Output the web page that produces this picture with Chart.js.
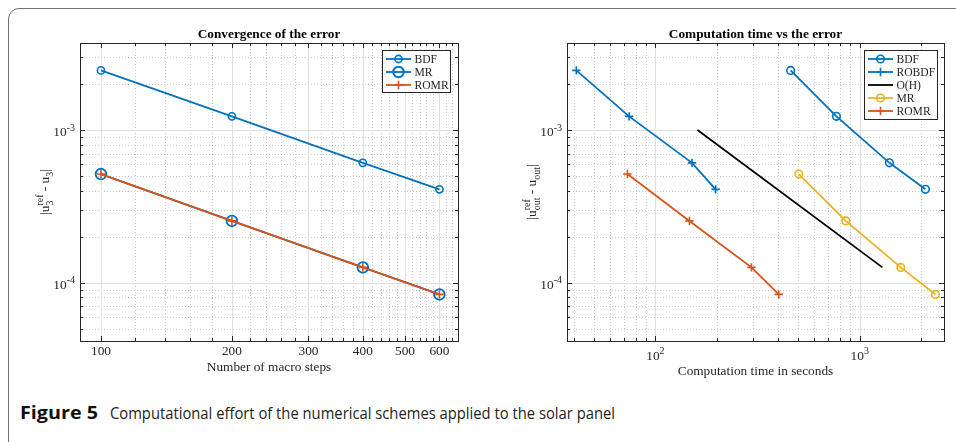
<!DOCTYPE html>
<html lang="en">
<head>
<meta charset="UTF-8">
<title>Figure 5</title>
<script src="https://cdn.jsdelivr.net/npm/chart.js@4"></script>
<style>
  body { margin: 0; background: #fff; }
  .figura { position: relative; width: 956px; height: 442px; overflow: hidden; }
  .moldura { position: absolute; left: 8px; top: 8px; width: 1000px; height: 500px;
             border: 1.4px solid #737373; border-radius: 11px; }
  canvas { position: absolute; top: 0; }
  #graficoEsq { left: 0; }
  #graficoDir { left: 478px; }
  .cap { position: absolute; top: 401px; font-family: "Open Sans", sans-serif; font-size: 17px;
         color: #231f20; white-space: nowrap; transform-origin: left top; }
  #capNum { left: 20px; font-weight: bold; color: #111; }
  #capTxt { left: 110px; }
</style>
</head>
<body>
<div class="figura">
  <div class="moldura"></div>
  <canvas id="graficoEsq" width="478" height="385"></canvas>
  <canvas id="graficoDir" width="478" height="385"></canvas>
  <span class="cap" id="capNum">Figure 5</span>
  <span class="cap" id="capTxt">Computational effort of the numerical schemes applied to the solar panel</span>
</div>

<script>
// valores
const passosMacro = [100, 200, 400, 600];
const erroBDF = [2.46e-3, 1.23e-3, 6.1e-4, 4.09e-4];
const erroMR = [5.15e-4, 2.54e-4, 1.26e-4, 8.38e-5];
const erroROMR = [5.15e-4, 2.54e-4, 1.26e-4, 8.38e-5];

const tempoBDF = [459, 769, 1397, 2097];
const tempoROBDF = [41.0, 74.3, 151, 197];
const tempoMR = [503, 854, 1588, 2347];
const tempoROMR = [72.9, 146.7, 295, 401.5];
const tempoOH = [160.6, 1291];
const erroOH = [1.0e-3, 1.26e-4];

// ticks
const ticksPassos = [100, 200, 300, 400, 500, 600];
const ticksPassosMenor = [120, 140, 160, 180, 220, 240, 260, 280, 320, 340, 360, 380,
                          420, 440, 460, 480, 520, 540, 560, 580, 620, 640];
const ticksTempo = [100, 1000];
const expTempo = ['2', '3'];
const ticksTempoMenor = [40, 50, 60, 70, 80, 90, 200, 300, 400, 500, 600, 700, 800, 900, 2000];
const ticksErro = [1e-4, 1e-3];
const expErro = ['-4', '-3'];
const ticksErroMenor = [5e-5, 6e-5, 7e-5, 8e-5, 9e-5, 2e-4, 3e-4, 4e-4, 5e-4, 6e-4, 7e-4,
                        8e-4, 9e-4, 2e-3, 3e-3];

const AZUL = '#0072BD';
const LARANJA = '#D95319';
const AMARELO = '#EDB120';
const PRETO = '#000000';
const SERIF = '"Liberation Serif", "Times New Roman", serif';
const FT = 13.3;   // fonte dos eixos
const FS = 10;     // sobrescritos
const FL = 11.6;   // legenda

function pontos(xs, ys) {
    return xs.map((x, i) => ({ x: x, y: ys[i] }));
}

function linha(ctx, x1, y1, x2, y2) {
    ctx.beginPath();
    ctx.moveTo(x1, y1);
    ctx.lineTo(x2, y2);
    ctx.stroke();
}

// texto com sobrescrito / subscrito
function textoRico(ctx, partes, x, y, soMedir) {
    let cx = x;
    for (const p of partes) {
        if (p.t !== undefined) {
            ctx.font = FT + 'px ' + SERIF;
            if (!soMedir) ctx.fillText(p.t, cx, y);
            cx += ctx.measureText(p.t).width;
        } else {
            ctx.font = FS + 'px ' + SERIF;
            const w1 = p.sup ? ctx.measureText(p.sup).width : 0;
            const w2 = p.sub ? ctx.measureText(p.sub).width : 0;
            if (!soMedir) {
                if (p.sup) ctx.fillText(p.sup, cx, y - 6.5);
                if (p.sub) ctx.fillText(p.sub, cx, y + 3.5);
            }
            cx += Math.max(w1, w2);
        }
    }
    return cx - x;
}

function marcador(ctx, estilo, r, x, y) {
    ctx.beginPath();
    if (estilo === 'circle') {
        ctx.arc(x, y, r, 0, Math.PI * 2);
    } else if (estilo === 'cross') {
        ctx.moveTo(x - r, y); ctx.lineTo(x + r, y);
        ctx.moveTo(x, y - r); ctx.lineTo(x, y + r);
    }
    ctx.stroke();
}

// eixos no estilo do matlab: grade, caixa, ticks para dentro, rótulos e legenda
const eixoMatlab = {
    id: 'eixoMatlab',
    beforeDatasetsDraw(chart, args, o) {
        const { ctx, chartArea: a, scales: { x, y } } = chart;
        ctx.save();
        ctx.lineWidth = 1;
        ctx.strokeStyle = 'rgba(0,0,0,0.2)';
        ctx.setLineDash([1, 2]);
        o.xMenor.forEach(v => { const p = Math.round(x.getPixelForValue(v)) + 0.5; linha(ctx, p, a.top, p, a.bottom); });
        o.yMenor.forEach(v => { const p = Math.round(y.getPixelForValue(v)) + 0.5; linha(ctx, a.left, p, a.right, p); });
        ctx.setLineDash([]);
        ctx.strokeStyle = '#dfdfdf';
        o.xMaior.forEach(v => { const p = Math.round(x.getPixelForValue(v)) + 0.5; linha(ctx, p, a.top, p, a.bottom); });
        o.yMaior.forEach(v => { const p = Math.round(y.getPixelForValue(v)) + 0.5; linha(ctx, a.left, p, a.right, p); });
        ctx.restore();
    },
    afterDatasetsDraw(chart, args, o) {
        const { ctx, chartArea: a, scales: { x, y } } = chart;
        ctx.save();
        ctx.strokeStyle = '#262626';
        ctx.fillStyle = '#262626';
        ctx.lineWidth = 1;
        // ticks
        const tx = (v, t) => { const p = Math.round(x.getPixelForValue(v)) + 0.5;
            linha(ctx, p, a.bottom, p, a.bottom - t); linha(ctx, p, a.top, p, a.top + t); };
        const ty = (v, t) => { const p = Math.round(y.getPixelForValue(v)) + 0.5;
            linha(ctx, a.left, p, a.left + t, p); linha(ctx, a.right, p, a.right - t, p); };
        o.xMenor.forEach(v => tx(v, 3));
        o.xMaior.forEach(v => tx(v, 5));
        o.yMenor.forEach(v => ty(v, 3));
        o.yMaior.forEach(v => ty(v, 5));
        ctx.strokeRect(Math.round(a.left) + 0.5, Math.round(a.top) + 0.5,
                       Math.round(a.right - a.left), Math.round(a.bottom - a.top));

        ctx.textAlign = 'left';
        ctx.textBaseline = 'alphabetic';
        // rótulos do eixo y: 10^n
        o.yMaior.forEach((v, i) => {
            const p = y.getPixelForValue(v);
            ctx.font = FS + 'px ' + SERIF;
            const we = ctx.measureText(o.yExp[i]).width;
            ctx.font = FT + 'px ' + SERIF;
            const wb = ctx.measureText('10').width;
            const xd = a.left - 5;
            ctx.fillText('10', xd - we - wb, p + 6);
            ctx.font = FS + 'px ' + SERIF;
            ctx.fillText(o.yExp[i], xd - we, p + 0.5);
        });
        // rótulos do eixo x em potência de 10
        if (o.xExp) {
            o.xMaior.forEach((v, i) => {
                const p = x.getPixelForValue(v);
                ctx.font = FS + 'px ' + SERIF;
                const we = ctx.measureText(o.xExp[i]).width;
                ctx.font = FT + 'px ' + SERIF;
                const wb = ctx.measureText('10').width;
                const x0 = p - (wb + we) / 2;
                ctx.fillText('10', x0, a.bottom + 18.5);
                ctx.font = FS + 'px ' + SERIF;
                ctx.fillText(o.xExp[i], x0 + wb, a.bottom + 13);
            });
        }
        // títulos
        const cx = (a.left + a.right) / 2;
        ctx.textAlign = 'center';
        ctx.font = 'bold ' + FT + 'px ' + SERIF;
        ctx.fillStyle = '#000';
        ctx.fillText(o.titulo, cx, 37.5);
        ctx.fillStyle = '#262626';
        ctx.font = FT + 'px ' + SERIF;
        ctx.fillText(o.tituloX, cx, a.bottom + o.tituloXdy);
        ctx.textAlign = 'left';
        ctx.save();
        ctx.translate(a.left - 31, (a.top + a.bottom) / 2);
        ctx.rotate(-Math.PI / 2);
        const w = textoRico(ctx, o.tituloY, 0, 0, true);
        textoRico(ctx, o.tituloY, -w / 2, 0, false);
        ctx.restore();

        // legenda
        const L = o.legenda;
        ctx.fillStyle = '#fff';
        ctx.fillRect(L.x, L.y, L.w, L.h);
        ctx.strokeStyle = '#262626';
        ctx.lineWidth = 1;
        ctx.strokeRect(L.x + 0.5, L.y + 0.5, L.w, L.h);
        ctx.font = FL + 'px ' + SERIF;
        ctx.textBaseline = 'middle';
        L.ordem.forEach((idx, k) => {
            const ds = chart.data.datasets[idx];
            const yy = L.y + 9 + k * 13;
            ctx.strokeStyle = ds.borderColor;
            ctx.lineWidth = ds.borderWidth;
            linha(ctx, L.x + 4, yy, L.x + 29, yy);
            if (ds.pointRadius > 0) {
                ctx.lineWidth = ds.pointBorderWidth;
                marcador(ctx, ds.pointStyle, ds.pointRadius, L.x + 16.5, yy);
            }
            ctx.fillStyle = '#262626';
            ctx.fillText(ds.label, L.x + 32.5, yy + 0.5);
        });
        ctx.restore();
    }
};

function serie(label, xs, ys, cor, estilo, raio, ordem) {
    return {
        label: label,
        data: pontos(xs, ys),
        showLine: true,
        borderColor: cor,
        borderWidth: 1.8,
        pointStyle: estilo,
        pointRadius: raio,
        pointBorderColor: cor,
        pointBackgroundColor: 'rgba(0,0,0,0)',
        pointBorderWidth: 1.6,
        order: ordem
    };
}

function opcoes(xMin, xMax, larguraY, direita, xTicks, mostrarX, plug) {
    return {
        responsive: false,
        animation: false,
        events: [],
        layout: { padding: { left: 0, top: 43, right: direita, bottom: 0 } },
        scales: {
            x: {
                type: 'logarithmic', min: xMin, max: xMax,
                grid: { display: false, drawTicks: false },
                border: { display: false },
                afterBuildTicks: s => { s.ticks = xTicks.map(v => ({ value: v })); },
                afterFit: s => { s.height = 44; },
                ticks: {
                    display: mostrarX, autoSkip: false, maxRotation: 0, padding: 3,
                    color: '#262626', font: { family: SERIF, size: FT },
                    callback: v => String(v)
                }
            },
            y: {
                type: 'logarithmic', min: 4.15e-5, max: 3.72e-3,
                grid: { display: false, drawTicks: false },
                border: { display: false },
                afterFit: s => { s.width = larguraY; },
                ticks: { display: false }
            }
        },
        plugins: {
            legend: { display: false },
            tooltip: { enabled: false },
            eixoMatlab: plug
        }
    };
}

// gráfico da esquerda
const dsEsq = [
    serie('BDF', passosMacro, erroBDF, AZUL, 'circle', 3.6, 2),
    serie('MR', passosMacro, erroMR, AZUL, 'circle', 5.3, 1),
    serie('ROMR', passosMacro, erroROMR, LARANJA, 'cross', 4.2, 0)
];
dsEsq[1].pointBorderWidth = 1.9;

new Chart(document.getElementById('graficoEsq'), {
    type: 'scatter',
    data: { datasets: dsEsq },
    options: opcoes(89.5, 662, 80, 20, ticksPassos, true, {
        xMaior: ticksPassos, xMenor: ticksPassosMenor,
        yMaior: ticksErro, yMenor: ticksErroMenor, yExp: expErro, xExp: null,
        titulo: 'Convergence of the error',
        tituloX: 'Number of macro steps', tituloXdy: 30,
        tituloY: [{ t: '|u' }, { sup: 'ref', sub: '3' }, { t: ' - u' }, { sub: '3' }, { t: '|' }],
        legenda: { x: 382, y: 50, w: 68, h: 42, ordem: [0, 1, 2] }
    }),
    plugins: [eixoMatlab]
});

// gráfico da direita
const dsDir = [
    serie('BDF', tempoBDF, erroBDF, AZUL, 'circle', 3.8, 4),
    serie('ROBDF', tempoROBDF, erroBDF, AZUL, 'cross', 4.2, 3),
    serie('O(H)', tempoOH, erroOH, PRETO, 'circle', 0, 2),
    serie('MR', tempoMR, erroMR, AMARELO, 'circle', 3.8, 1),
    serie('ROMR', tempoROMR, erroROMR, LARANJA, 'cross', 4.2, 0)
];

new Chart(document.getElementById('graficoDir'), {
    type: 'scatter',
    data: { datasets: dsDir },
    options: opcoes(36.9, 2585, 89, 12, ticksTempo, false, {
        xMaior: ticksTempo, xMenor: ticksTempoMenor,
        yMaior: ticksErro, yMenor: ticksErroMenor, yExp: expErro, xExp: expTempo,
        titulo: 'Computation time vs the error',
        tituloX: 'Computation time in seconds', tituloXdy: 34,
        tituloY: [{ t: '|u' }, { sup: 'ref', sub: 'out' }, { t: ' - u' }, { sub: 'out' }, { t: '|' }],
        legenda: { x: 386, y: 50, w: 73, h: 69, ordem: [0, 1, 2, 3, 4] }
    }),
    plugins: [eixoMatlab]
});

// legenda da figura: ajusta largura ao original
function ajustarLargura(id, alvo) {
    const el = document.getElementById(id);
    el.style.transform = 'scaleX(' + (alvo / el.getBoundingClientRect().width) + ')';
}
ajustarLargura('capNum', 78);
ajustarLargura('capTxt', 505);
</script>
</body>
</html>
